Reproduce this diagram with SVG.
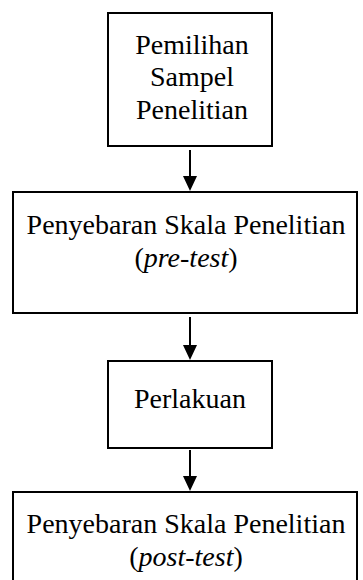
<svg xmlns="http://www.w3.org/2000/svg" width="363" height="580" viewBox="0 0 363 580">
<style>
.box{fill:#fff;stroke:#000;stroke-width:2}
.t{font-family:"Liberation Serif","Times New Roman",serif;font-size:28px;fill:#000;text-anchor:middle}
.c{stroke:#000;stroke-width:2;fill:none}
</style>
<rect width="363" height="580" fill="#fff"/>
<g id="n1"><rect class="box" x="108" y="13" width="164" height="133"/>
<text class="t" x="192" y="54">Pemilihan</text>
<text class="t" x="192" y="86">Sampel</text>
<text class="t" x="192" y="119">Penelitian</text></g>
<g id="n2"><rect class="box" x="13" y="192" width="344" height="121"/>
<text class="t" x="186" y="234">Penyebaran Skala Penelitian</text>
<text class="t" x="186" y="267">(<tspan font-style="italic">pre-test</tspan>)</text></g>
<g id="n3"><rect class="box" x="108" y="361" width="164" height="87"/>
<text class="t" x="190" y="408">Perlakuan</text></g>
<g id="n4"><rect class="box" x="13" y="492" width="344" height="100"/>
<text class="t" x="186" y="533">Penyebaran Skala Penelitian</text>
<text class="t" x="186" y="566">(<tspan font-style="italic">post-test</tspan>)</text></g>
<g id="connectors">
<line class="c" x1="190" y1="150" x2="190" y2="176"/><path d="M183,176 L197,176 L190,191 Z"/>
<line class="c" x1="190" y1="317" x2="190" y2="345"/><path d="M183,345 L197,345 L190,360 Z"/>
<line class="c" x1="190" y1="450" x2="190" y2="476"/><path d="M183,476 L197,476 L190,491 Z"/>
</g>
</svg>
